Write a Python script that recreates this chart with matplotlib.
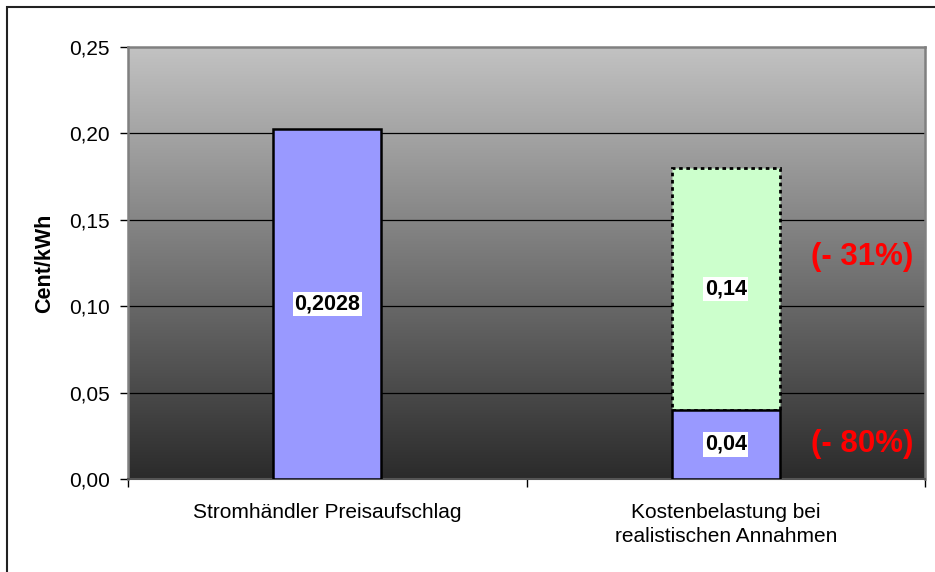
import matplotlib
matplotlib.use("Agg")
import matplotlib.pyplot as plt
import matplotlib.patches as patches
import numpy as np

plt.rcParams['font.family'] = ['Liberation Sans', 'DejaVu Sans']

categories = ["Stromhändler Preisaufschlag", "Kostenbelastung bei\nrealistischen Annahmen"]
baseValues = [0.2028, 0.04]
extraValues = [0.0, 0.14]
baseLabels = ["0,2028", "0,04"]
extraLabel = "0,14"
percentLabels = ["(- 31%)", "(- 80%)"]
yTicks = [0.00, 0.05, 0.10, 0.15, 0.20, 0.25]

fig = plt.figure(figsize=(9.35, 5.72), dpi=100)
ax = fig.add_axes([128 / 935, 1 - 479 / 572, 797 / 935, 432 / 572])

x = np.arange(len(categories))
barWidth = 0.271

# gradient background of the plot area
gradient = np.linspace(0, 1, 256).reshape(-1, 1)
ax.imshow(gradient, aspect='auto', cmap=matplotlib.colors.LinearSegmentedColormap.from_list(
    "bg", ["#2b2b2b", "#c2c2c2"]), extent=[-0.5, 1.5, 0, 0.25], origin='lower', zorder=0)

for t in yTicks[1:-1]:
    ax.axhline(t, color='black', linewidth=0.9, zorder=1)

ax.bar(x, baseValues, width=barWidth, color='#9999ff', edgecolor='black', linewidth=1.8, zorder=3)
ax.bar(x[1], extraValues[1], bottom=baseValues[1], width=barWidth, color='#ccffcc',
       edgecolor='black', linewidth=2.0, linestyle=(0, (1.3, 1.3)), zorder=2)

labelBox = dict(facecolor='white', edgecolor='none', pad=1.2)
for xi, v, lab in zip(x, baseValues, baseLabels):
    ax.text(xi, v / 2, lab, ha='center', va='center', fontsize=15.5, fontweight='bold',
            bbox=labelBox, zorder=5)
ax.text(x[1], baseValues[1] + extraValues[1] / 2, extraLabel, ha='center', va='center',
        fontsize=15.5, fontweight='bold', bbox=labelBox, zorder=5)

ax.text(1.342, 0.1285, percentLabels[0], ha='center', va='center', fontsize=22.5,
        fontweight='bold', color='red', zorder=5)
ax.text(1.342, 0.0205, percentLabels[1], ha='center', va='center', fontsize=22.5,
        fontweight='bold', color='red', zorder=5)

ax.set_xlim(-0.5, 1.5)
ax.set_ylim(0, 0.25)
ax.set_yticks(yTicks)
ax.set_yticklabels([f"{t:.2f}".replace('.', ',') for t in yTicks], fontsize=15)
ax.set_xticks([-0.5, 0.5, 1.5])
ax.set_xticklabels([])
ax.set_xticks(x, minor=True)
ax.set_xticklabels(categories, minor=True, fontsize=15, linespacing=1.35)
ax.tick_params(axis='x', which='major', length=6, width=1, direction='out')
ax.tick_params(axis='x', which='minor', length=0, pad=17)
ax.tick_params(axis='y', length=6, width=1, direction='out', pad=7)
ax.set_ylabel("Cent/kWh", fontsize=15.5, fontweight='bold', labelpad=10)

for side in ['top', 'right', 'left']:
    ax.spines[side].set_color('#808080')
    ax.spines[side].set_linewidth(1.8)
ax.spines['bottom'].set_color('#555555')
ax.spines['bottom'].set_linewidth(1.5)

# outer chart frame, running off the right and bottom edge
frame = patches.Rectangle((7 / 935, -0.02), 1.05, 1 - 7 / 572 + 0.02, transform=fig.transFigure,
                          fill=False, edgecolor='#222222', linewidth=1.5, clip_on=False)
fig.patches.append(frame)

fig.savefig("out.png", dpi=100)
